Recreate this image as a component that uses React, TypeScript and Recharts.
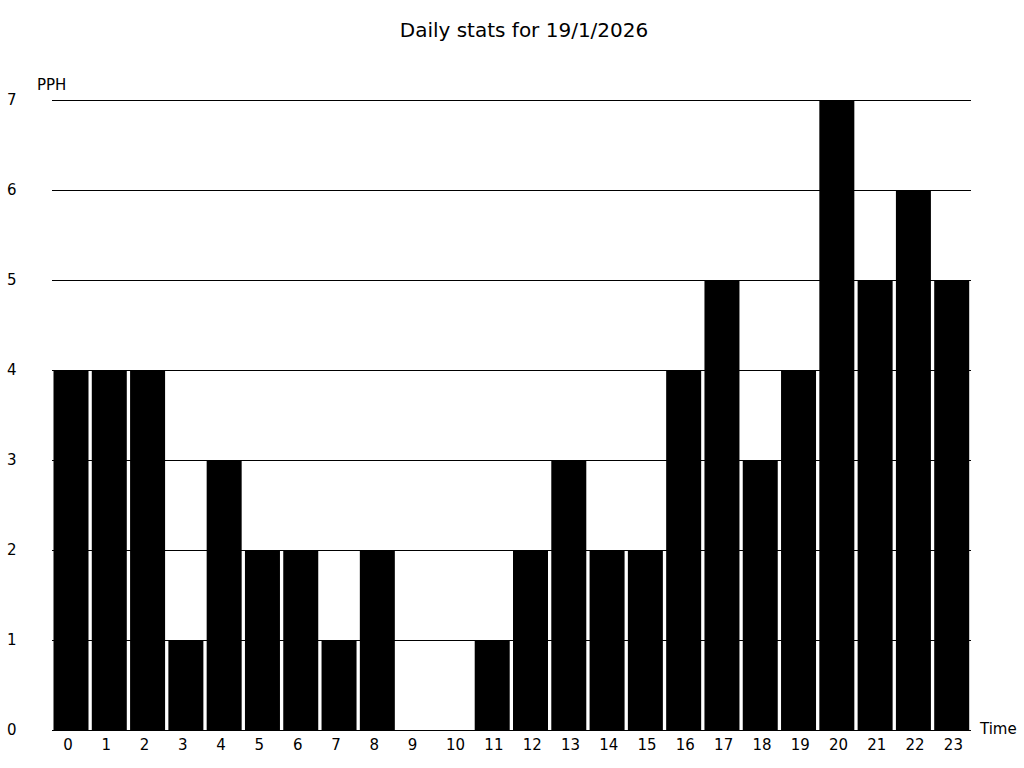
import React from 'react';
import { BarChart, Bar, XAxis, YAxis, CartesianGrid } from 'recharts';

const hours = ['0', '1', '2', '3', '4', '5', '6', '7', '8', '9', '10', '11', '12', '13', '14', '15', '16', '17', '18', '19', '20', '21', '22', '23'];
const pph = [4, 4, 4, 1, 3, 2, 2, 1, 2, 0, 0, 1, 2, 3, 2, 2, 4, 5, 3, 4, 7, 5, 6, 5];
const yTicks = [0, 1, 2, 3, 4, 5, 6, 7];

const data = hours.map((h, i) => ({ hour: h, pph: pph[i] }));

const font = 'DejaVu Sans, sans-serif';

const HourTick = (props: any) => {
    const { x, y, payload } = props;
    return (
        <text x={x - 8} y={y + 12} textAnchor="start" fontSize={15} fontFamily={font} fill="#000">
            {payload.value}
        </text>
    );
};

const ValueTick = (props: any) => {
    const { y, payload } = props;
    return (
        <text x={7} y={y + 5} textAnchor="start" fontSize={15} fontFamily={font} fill="#000">
            {payload.value}
        </text>
    );
};

export default function App() {
    return (
        <div style={{ position: 'absolute', left: 0, top: 0, width: 1024, height: 768, background: '#fff', fontFamily: font }}>
            <div style={{ position: 'absolute', left: 0, width: 1048, top: 18, textAlign: 'center', fontSize: 20 }}>
                Daily stats for 19/1/2026
            </div>
            <div style={{ position: 'absolute', left: 37, top: 76, fontSize: 15 }}>PPH</div>
            <div style={{ position: 'absolute', left: 980, top: 720, fontSize: 15 }}>Time</div>
            <BarChart
                width={1024}
                height={768}
                data={data}
                margin={{ top: 100, right: 53, left: 0, bottom: 0 }}
                barCategoryGap={1.5}
            >
                <CartesianGrid vertical={false} stroke="#000" strokeWidth={1} shapeRendering="crispEdges" />
                <XAxis
                    dataKey="hour"
                    interval={0}
                    tickLine={false}
                    axisLine={{ stroke: '#000', shapeRendering: 'crispEdges' }}
                    tick={<HourTick />}
                    height={38}
                />
                <YAxis
                    domain={[0, 7]}
                    ticks={yTicks}
                    width={52}
                    axisLine={false}
                    tickLine={false}
                    tick={<ValueTick />}
                />
                <Bar dataKey="pph" fill="#000" isAnimationActive={false} />
            </BarChart>
        </div>
    );
}
